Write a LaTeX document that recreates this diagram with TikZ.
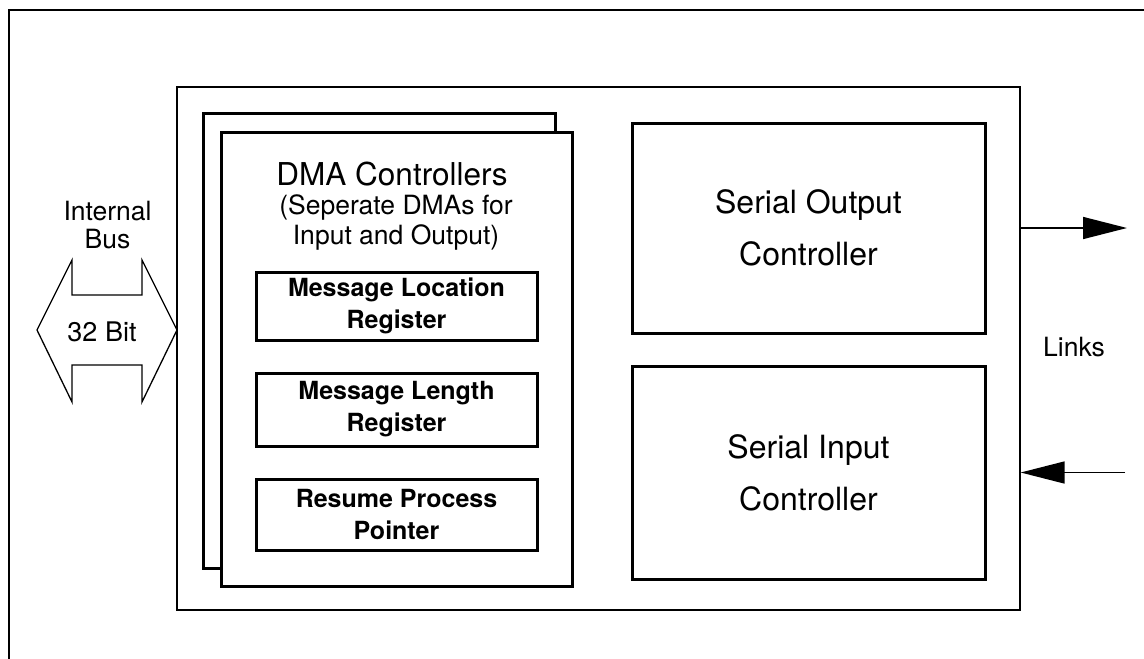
\documentclass[tikz,border=0pt]{standalone}
\usepackage{fontspec}
\setmainfont{TeX Gyre Heros}
\usetikzlibrary{arrows.meta}
\begin{document}
\begin{tikzpicture}[x=1pt, y=-1pt,
  thickbox/.style={draw, line width=3pt, inner sep=0pt, fill=white},
  chipbox/.style={draw, line width=1.3pt, inner sep=0pt},
  regbox/.style={thickbox, minimum width=281pt, align=center,
    font=\fontsize{25}{32}\selectfont\bfseries},
  serbox/.style={thickbox, minimum width=353pt, align=center,
    font=\fontsize{32}{52}\selectfont},
  lbl/.style={inner sep=0pt, align=center, font=\fontsize{26.5}{28}\selectfont},
  link/.style={line width=1.5pt, -{Triangle[length=44pt,width=22pt]}}
]
\useasboundingbox (0,0) rectangle (1144,659);

% outer frame (runs off the page at right and bottom)
\draw[line width=2pt] (9,659) -- (9,10) -- (1144,10);

% chip outline
\node[chipbox, minimum width=843pt, minimum height=523pt] (chip) at (598.5,348.5) {};

% stacked DMA controllers
\node[thickbox, minimum width=352pt, minimum height=455pt] (dmaback) at (379,340.5) {};
\node[thickbox, minimum width=351pt, minimum height=454pt] (dma) at (396.5,359) {};
\node[lbl, font=\fontsize{31.5}{34}\selectfont] (dmatitle) at (392,174) {DMA Controllers};
\node[lbl, font=\fontsize{26.5}{30}\selectfont] (dmasub) at (396,222)
  {(Seperate DMAs for\\Input and Output)};

% registers
\node[regbox, minimum height=68pt] (reg1) at (396.5,306) {Message Location\\Register};
\node[regbox, minimum height=73pt] (reg2) at (396.5,409.5) {Message Length\\Register};
\node[regbox, minimum height=71pt] (reg3) at (396.5,514.5) {Resume Process\\Pointer};

% serial controllers
\node[serbox, minimum height=210pt] (serout) at (808.5,228) {Serial Output\\Controller};
\node[serbox, minimum height=213pt] (serin) at (808.5,472.5) {Serial Input\\Controller};

% internal bus
\node[lbl] (buslbl) at (107.5,225) {Internal\\Bus};
\draw[line width=1.3pt, line join=miter]
  (37,330) -- (72,260) -- (72,295) -- (142,295) -- (142,260) -- (177,330)
  -- (142,402) -- (142,365) -- (72,365) -- (72,402) -- cycle;
\node[lbl, font=\fontsize{27}{30}\selectfont] (width) at (102,332) {32 Bit};

% serial links
\coordinate (linkout) at (1127,228);
\coordinate (linkin) at (1125,472.5);
\draw[link] (chip.east |- serout.center) -- (linkout);
\draw[link] (linkin) -- (chip.east |- serin.center);
\node[lbl] (links) at (1074,347) {Links};
\end{tikzpicture}
\end{document}
